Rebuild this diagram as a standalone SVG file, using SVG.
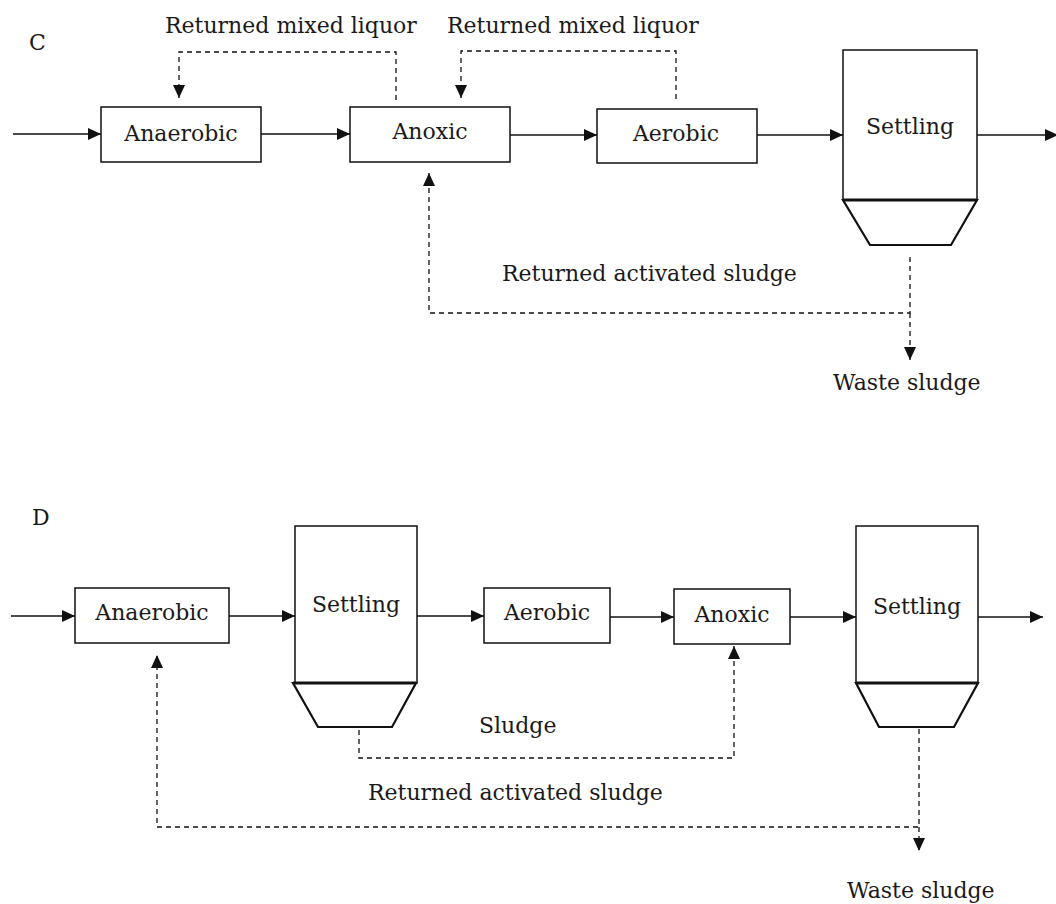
<svg xmlns="http://www.w3.org/2000/svg" width="1056" height="904" viewBox="0 0 1056 904">
  <style>
    .box { fill: #ffffff; stroke: #111111; stroke-width: 1.5; }
    .tank { fill: #ffffff; stroke: #111111; stroke-width: 1.5; }
    .hopper { fill: #ffffff; stroke: #111111; stroke-width: 2.2; stroke-linejoin: miter; }
    .lip { stroke: #111111; stroke-width: 3.2; }
    .lbl { font-family: "DejaVu Serif", "Liberation Serif", serif; font-size: 22px; fill: #1a1a1a; }
    .mid { text-anchor: middle; }
    .flow { fill: none; stroke: #111111; stroke-width: 1.5; marker-end: url(#arrow); }
    .dash { fill: none; stroke: #111111; stroke-width: 1.3; stroke-dasharray: 5 4; marker-end: url(#arrow); }
  </style>
  <defs>
    <marker id="arrow" markerUnits="userSpaceOnUse" markerWidth="14" markerHeight="12" refX="13" refY="6" orient="auto">
      <path d="M0,0 L13,6 L0,12 Z" fill="#111111"/>
    </marker>
  </defs>
  <rect width="1056" height="904" fill="#ffffff"/>

  <!-- Process C -->
  <text class="lbl" x="29" y="50">C</text>
  <text class="lbl" x="165" y="33">Returned mixed liquor</text>
  <text class="lbl" x="447" y="33">Returned mixed liquor</text>

  <g id="c-anaerobic">
    <rect class="box" x="101" y="107" width="160" height="55"/>
    <text class="lbl mid" x="181" y="141">Anaerobic</text>
  </g>
  <g id="c-anoxic">
    <rect class="box" x="350" y="107" width="160" height="55"/>
    <text class="lbl mid" x="430" y="139">Anoxic</text>
  </g>
  <g id="c-aerobic">
    <rect class="box" x="597" y="109" width="160" height="54"/>
    <text class="lbl mid" x="676" y="141">Aerobic</text>
  </g>
  <g id="c-settling">
    <rect class="tank" x="843" y="50" width="134" height="150"/>
    <polygon class="hopper" points="843,200 977,200 951,245 870,245"/>
    <line class="lip" x1="843" y1="200" x2="977" y2="200"/>
    <text class="lbl mid" x="910" y="134">Settling</text>
  </g>

  <text class="lbl" x="502" y="281">Returned activated sludge</text>
  <text class="lbl" x="833" y="390">Waste sludge</text>

  <!-- Process D -->
  <text class="lbl" x="32" y="525">D</text>

  <g id="d-anaerobic">
    <rect class="box" x="75" y="588" width="154" height="55"/>
    <text class="lbl mid" x="152" y="620">Anaerobic</text>
  </g>
  <g id="d-settling-1">
    <rect class="tank" x="295" y="526" width="122" height="157"/>
    <polygon class="hopper" points="293,683 416,683 392,727 318,727"/>
    <line class="lip" x1="293" y1="683" x2="416" y2="683"/>
    <text class="lbl mid" x="356" y="612">Settling</text>
  </g>
  <g id="d-aerobic">
    <rect class="box" x="484" y="588" width="126" height="55"/>
    <text class="lbl mid" x="547" y="620">Aerobic</text>
  </g>
  <g id="d-anoxic">
    <rect class="box" x="674" y="589" width="116" height="55"/>
    <text class="lbl mid" x="732" y="622">Anoxic</text>
  </g>
  <g id="d-settling-2">
    <rect class="tank" x="856" y="526" width="122" height="157"/>
    <polygon class="hopper" points="856,683 978,683 954,727 879,727"/>
    <line class="lip" x1="856" y1="683" x2="978" y2="683"/>
    <text class="lbl mid" x="917" y="614">Settling</text>
  </g>

  <text class="lbl" x="479" y="733">Sludge</text>
  <text class="lbl" x="368" y="800">Returned activated sludge</text>
  <text class="lbl" x="847" y="898">Waste sludge</text>

  <!-- Connectors -->
  <g id="connectors">
    <!-- C: main flow -->
    <line class="flow" x1="13" y1="134" x2="101" y2="134"/>
    <line class="flow" x1="261" y1="134" x2="350" y2="134"/>
    <line class="flow" x1="510" y1="135" x2="597" y2="135"/>
    <line class="flow" x1="757" y1="135" x2="843" y2="135"/>
    <line class="flow" x1="977" y1="135" x2="1058" y2="135"/>
    <!-- C: recycles -->
    <path class="dash" d="M396,100 V52 H179 V98"/>
    <path class="dash" d="M676,99 V51 H461 V98"/>
    <path class="dash" d="M910,257 V313 H429 V173"/>
    <path class="dash" d="M910,313 V360"/>

    <!-- D: main flow -->
    <line class="flow" x1="11" y1="616" x2="75" y2="616"/>
    <line class="flow" x1="229" y1="616" x2="295" y2="616"/>
    <line class="flow" x1="417" y1="616" x2="484" y2="616"/>
    <line class="flow" x1="610" y1="617" x2="674" y2="617"/>
    <line class="flow" x1="790" y1="617" x2="856" y2="617"/>
    <line class="flow" x1="978" y1="617" x2="1043" y2="617"/>
    <!-- D: recycles -->
    <path class="dash" d="M359,730 V758 H734 V646"/>
    <path class="dash" d="M919,729 V827 H157 V655"/>
    <path class="dash" d="M919,827 V851"/>
  </g>
</svg>
